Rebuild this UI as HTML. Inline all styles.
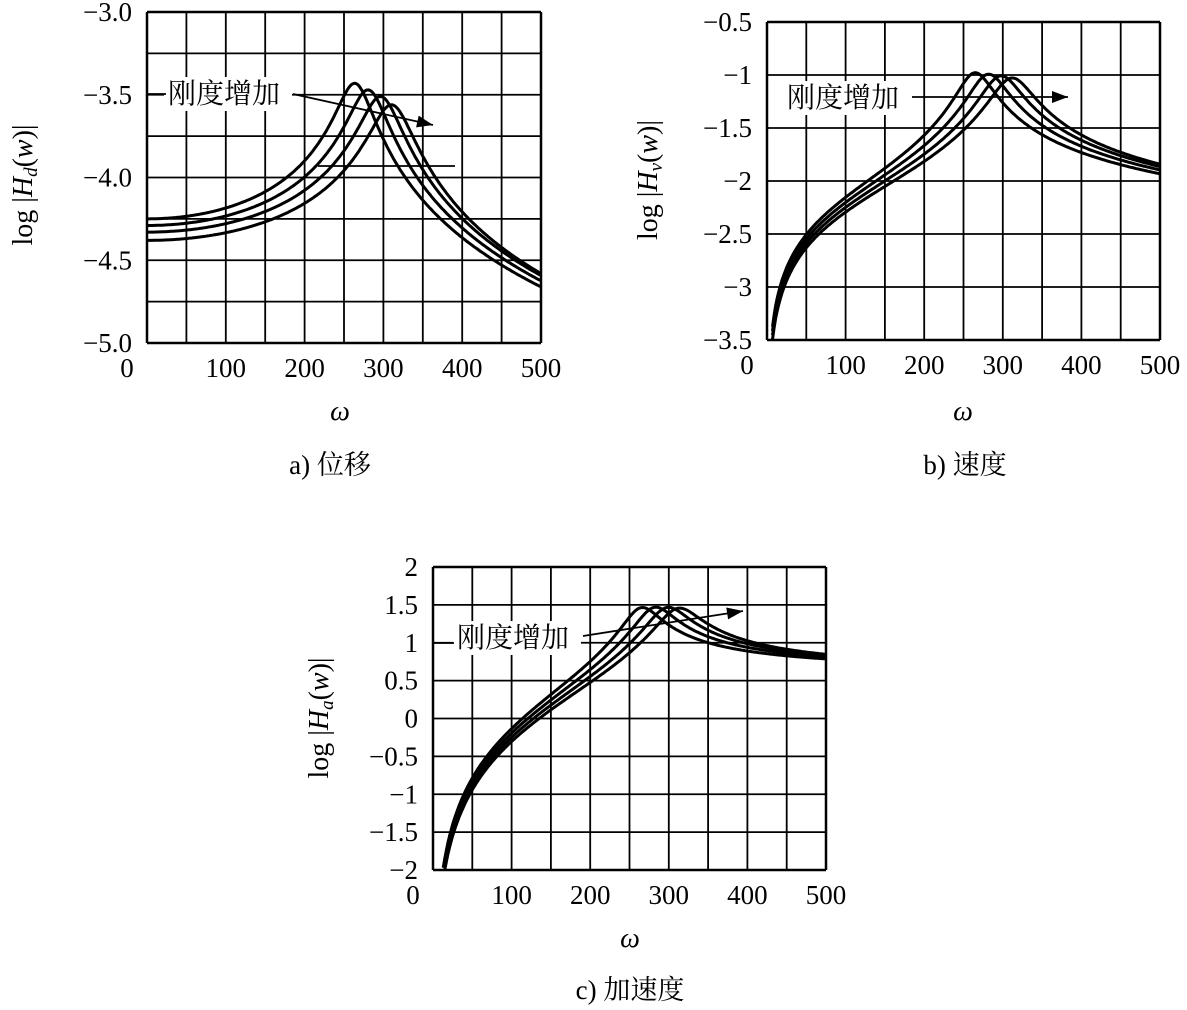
<!DOCTYPE html>
<html><head><meta charset="utf-8"><style>
body{margin:0;background:#fff}
svg text{font-family:"Liberation Serif","Noto Serif CJK SC",serif;fill:#000}
</style></head><body>
<svg id="s" width="1187" height="1005" xmlns="http://www.w3.org/2000/svg"></svg>
<script>
const s=document.getElementById('s');let h='';
function chart(o){
 const {L,R,T,B,ymin,ymax,rows,yt,type,consts}=o;
 const X=w=>L+(R-L)*w/500, Y=v=>B-(B-T)*(v-ymin)/(ymax-ymin);
 for(let i=0;i<=10;i++){h+=`<line x1="${X(i*50)}" y1="${T}" x2="${X(i*50)}" y2="${B}" stroke="#000" stroke-width="${i==0||i==10?2.5:1.8}"/>`}
 for(let j=0;j<=rows;j++){const y=T+(B-T)*j/rows;h+=`<line x1="${L}" y1="${y}" x2="${R}" y2="${y}" stroke="#000" stroke-width="${j==0||j==rows?2.5:1.8}"/>`}
 yt.forEach(t=>{h+=`<text x="${L-15}" y="${Y(t[0])+9}" font-size="27" text-anchor="end">${t[1]}</text>`});
 [0,100,200,300,400,500].forEach(v=>{h+=`<text x="${X(v)+(v==0?-20:0)}" y="${B+34}" font-size="27" text-anchor="middle">${v}</text>`});
 const wn=[265,282,298,312], z=0.076;
 wn.forEach((n,k)=>{
  let d='',st=false;
  for(let w=1;w<=500;w+=2){
   const r=w/n;let v=-0.5*Math.log10((1-r*r)**2+(2*z*r)**2);
   if(type==0)v+=consts[k];
   else if(type==1)v+=consts[k]+Math.log10(w);
   else v+=consts[k]+2*Math.log10(w);
   if(v<ymin){continue;}
   d+=(st?'L':'M')+X(w).toFixed(1)+','+Y(v).toFixed(1);st=true;
  }
  h+=`<path d="${d}" fill="none" stroke="#000" stroke-width="3"/>`;
 });
}
chart({L:147,R:541,T:12,B:343,ymin:-5,ymax:-3,rows:8,type:0,consts:[-4.25,-4.29,-4.33,-4.38],
 yt:[[-3,'−3.0'],[-3.5,'−3.5'],[-4,'−4.0'],[-4.5,'−4.5'],[-5,'−5.0']]});
chart({L:767,R:1160,T:22,B:340,ymin:-3.5,ymax:-0.5,rows:6,type:1,consts:[-4.22,-4.26,-4.30,-4.34],
 yt:[[-0.5,'−0.5'],[-1,'−1'],[-1.5,'−1.5'],[-2,'−2'],[-2.5,'−2.5'],[-3,'−3'],[-3.5,'−3.5']]});
chart({L:433,R:826,T:567,B:870,ymin:-2,ymax:2,rows:8,type:2,consts:[-4.20,-4.25,-4.30,-4.35],
 yt:[[2,'2'],[1.5,'1.5'],[1,'1'],[0.5,'0.5'],[0,'0'],[-0.5,'−0.5'],[-1,'−1'],[-1.5,'−1.5'],[-2,'−2']]});
h+=`<line x1="318" y1="166" x2="455" y2="166" stroke="#000" stroke-width="1.8"/>`;
function ann(tx,ty,x1,y1,x2,y2){
 h+=`<rect x="${tx-4}" y="${ty-26}" width="128" height="34" fill="#fff"/>`;
 h+=`<text x="${tx}" y="${ty}" font-size="28">刚度增加</text>`;
 h+=`<line x1="${x1}" y1="${y1}" x2="${x2}" y2="${y2}" stroke="#000" stroke-width="1.8"/>`;
 const a=Math.atan2(y2-y1,x2-x1),l=16,wd=6;
 const bx=x2-l*Math.cos(a),by=y2-l*Math.sin(a);
 h+=`<polygon points="${x2},${y2} ${bx-wd*Math.sin(a)},${by+wd*Math.cos(a)} ${bx+wd*Math.sin(a)},${by-wd*Math.cos(a)}" fill="#000"/>`;
}
ann(168,103,293,94,433,125);
h+=`<line x1="147" y1="94" x2="166" y2="94" stroke="#000" stroke-width="1.8"/>`;
ann(787,107,912,97,1068,97);
ann(457,647,583,636,743,611);
h+=`<line x1="433" y1="643" x2="454" y2="643" stroke="#000" stroke-width="1.8"/>`;
h+=`<text transform="translate(32,185) rotate(-90)" font-size="28" text-anchor="middle">log |<tspan font-style="italic">H</tspan><tspan font-size="19" dy="5" font-style="italic">d</tspan><tspan dy="-5">(</tspan><tspan font-style="italic">w</tspan>)|</text>`;
h+=`<text transform="translate(657,180) rotate(-90)" font-size="28" text-anchor="middle">log |<tspan font-style="italic">H</tspan><tspan font-size="19" dy="5" font-style="italic">v</tspan><tspan dy="-5">(</tspan><tspan font-style="italic">w</tspan>)|</text>`;
h+=`<text transform="translate(328,718) rotate(-90)" font-size="28" text-anchor="middle">log |<tspan font-style="italic">H</tspan><tspan font-size="19" dy="5" font-style="italic">a</tspan><tspan dy="-5">(</tspan><tspan font-style="italic">w</tspan>)|</text>`;
h+=`<text x="340" y="420" font-size="28" font-style="italic" text-anchor="middle">ω</text>`;
h+=`<text x="963" y="420" font-size="28" font-style="italic" text-anchor="middle">ω</text>`;
h+=`<text x="630" y="947" font-size="28" font-style="italic" text-anchor="middle">ω</text>`;
h+=`<text x="330" y="474" font-size="27" text-anchor="middle">a) 位移</text>`;
h+=`<text x="965" y="474" font-size="27" text-anchor="middle">b) 速度</text>`;
h+=`<text x="630" y="999" font-size="27" text-anchor="middle">c) 加速度</text>`;
s.innerHTML=h;
</script>
</body></html>
